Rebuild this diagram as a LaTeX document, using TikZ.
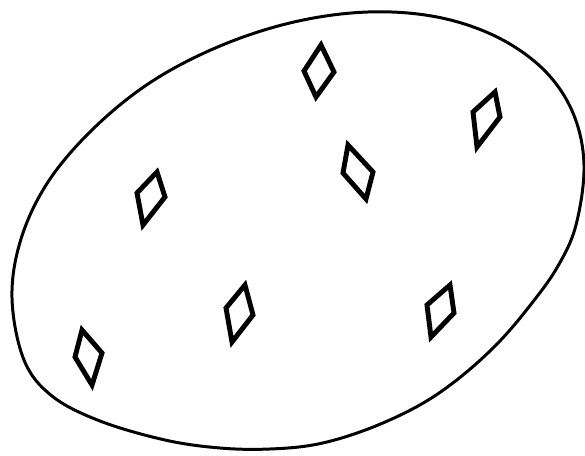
\documentclass[tikz,border=0pt]{standalone}
\usepackage{tikz}
\usetikzlibrary{positioning}
\tikzset{gem/.style={line width=2.8pt, line join=miter}}
\tikzset{rim/.style={line width=1.7pt}}
\begin{document}
\begin{tikzpicture}[x=0.02cm, y=-0.02cm]
\useasboundingbox (0, 0) rectangle (585, 456);
\draw[rim] plot[smooth cycle, tension=0.6] coordinates {
  (368, 12) (437, 17) (497, 37) (544, 70) (573, 113) (584, 165)
  (576, 225) (558, 266) (532, 303) (498, 343) (458, 379)
  (418, 406) (368, 429) (318, 444) (270, 449) (220, 448) (165, 440)
  (100, 421) (52, 396) (24, 360) (12, 298) (21, 239) (48, 182)
  (93, 129) (151, 82) (220, 46) (294, 22)};
\draw[gem] (321, 45) -- (334, 72) -- (316, 97) -- (304, 71) -- cycle;
\draw[gem] (495, 92) -- (500, 117) -- (477, 147) -- (473, 112) -- cycle;
\draw[gem] (348, 145) -- (373, 172) -- (366, 199) -- (343, 173) -- cycle;
\draw[gem] (157, 172) -- (165, 197) -- (143, 225) -- (137, 193) -- cycle;
\draw[gem] (245, 285) -- (253, 315) -- (232, 342) -- (226, 308) -- cycle;
\draw[gem] (450, 285) -- (454, 313) -- (431, 337) -- (427, 305) -- cycle;
\draw[gem] (82, 330) -- (102, 353) -- (92, 385) -- (75, 357) -- cycle;
\end{tikzpicture}
\end{document}
